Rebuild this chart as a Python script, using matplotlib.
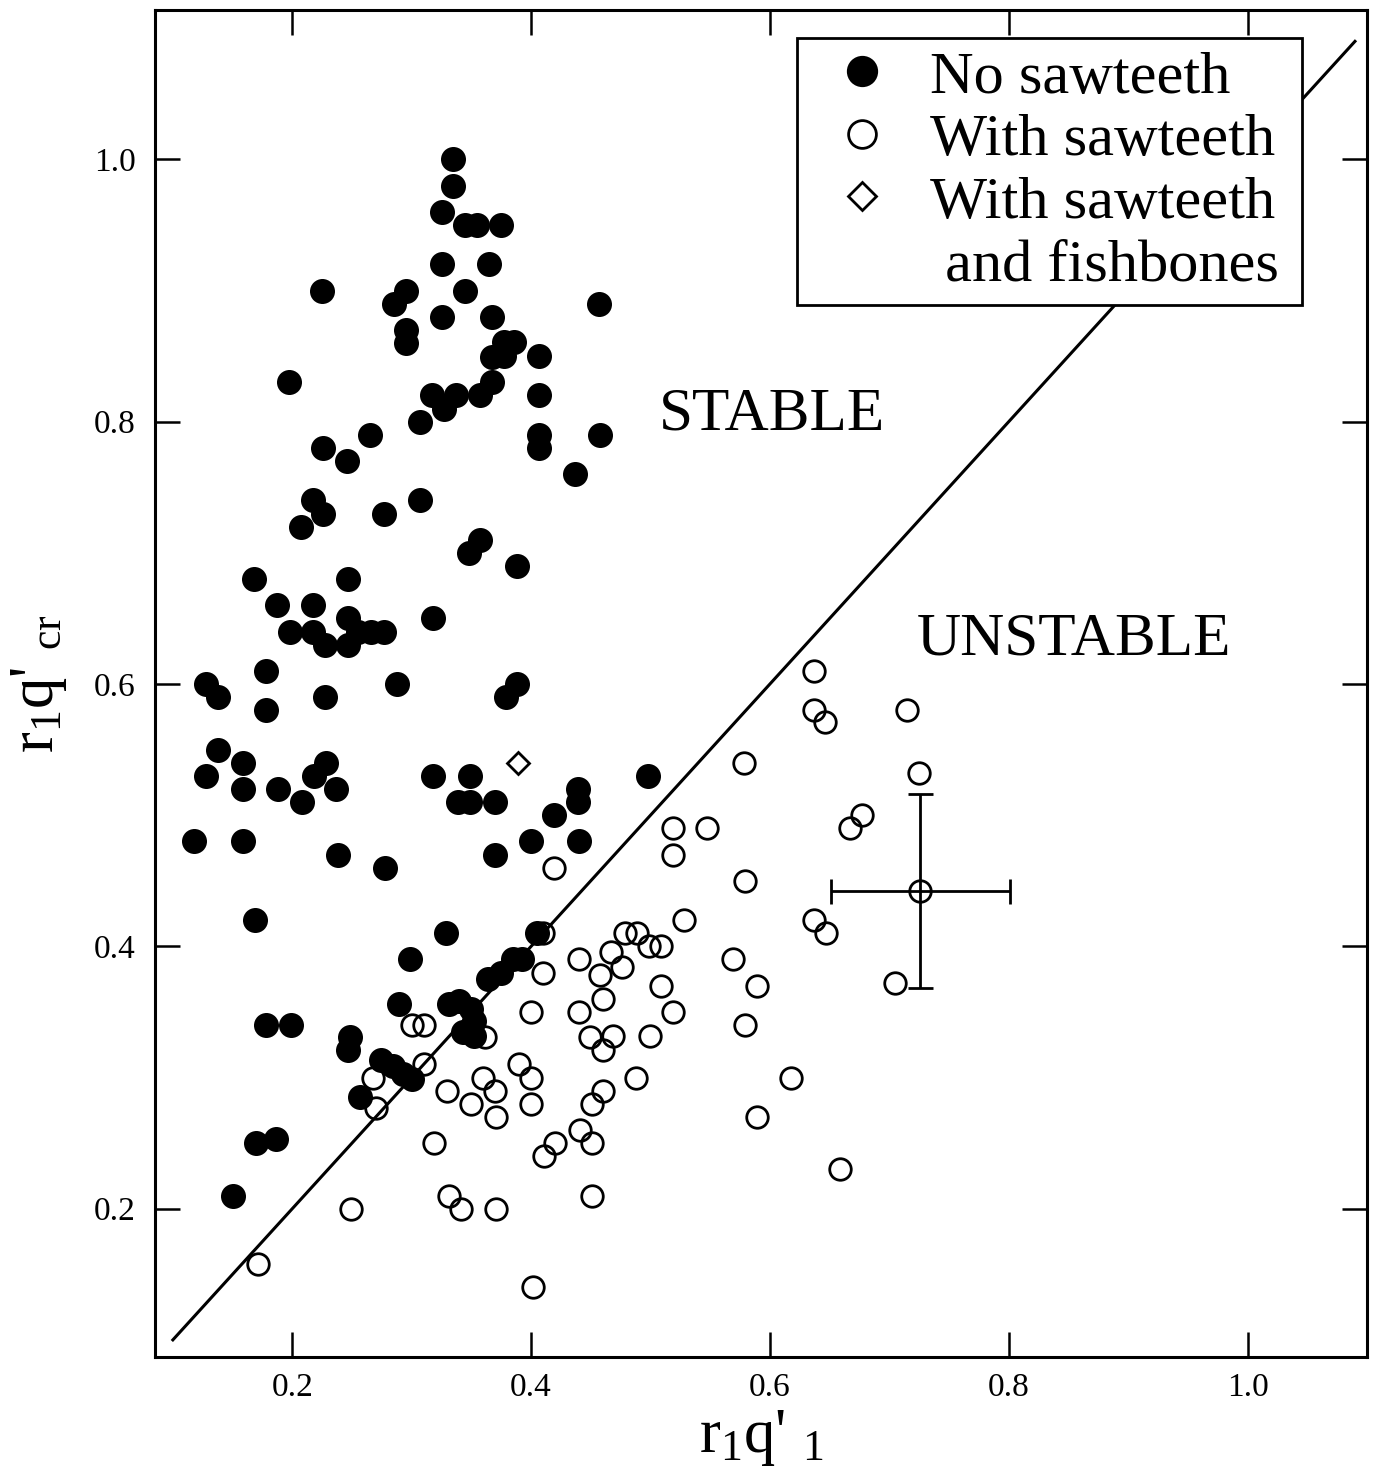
import matplotlib
matplotlib.use('Agg')
import matplotlib.pyplot as plt
from matplotlib.lines import Line2D

plt.rcParams['font.family'] = ['Liberation Serif', 'DejaVu Serif']
plt.rcParams['mathtext.fontset'] = 'custom'
plt.rcParams['mathtext.rm'] = 'Liberation Serif'
plt.rcParams['mathtext.it'] = 'Liberation Serif:italic'

# no sawteeth (filled circles)
no_saw_x = [0.335, 0.335, 0.325, 0.345, 0.355, 0.375, 0.325, 0.365, 0.225, 0.295,
            0.285, 0.345, 0.325, 0.367, 0.457, 0.295, 0.295, 0.377, 0.386, 0.367,
            0.377, 0.407, 0.197, 0.317, 0.327, 0.337, 0.357, 0.367, 0.407, 0.307,
            0.407, 0.407, 0.458, 0.265, 0.226, 0.246, 0.437,
            0.217, 0.226, 0.277, 0.307, 0.207, 0.357, 0.348, 0.388, 0.168, 0.247,
            0.187, 0.217, 0.247, 0.318, 0.198, 0.217, 0.227, 0.247, 0.255, 0.266,
            0.277, 0.128, 0.138, 0.178, 0.178, 0.227, 0.288, 0.388, 0.379, 0.138,
            0.159, 0.128, 0.159, 0.188, 0.208, 0.228, 0.218, 0.237, 0.318, 0.349,
            0.339, 0.349, 0.370, 0.439, 0.439, 0.419, 0.498, 0.118, 0.159, 0.238,
            0.278, 0.370, 0.400, 0.440,
            0.169, 0.329, 0.299, 0.405, 0.364, 0.375, 0.385, 0.392, 0.289, 0.331,
            0.340, 0.350, 0.352, 0.343, 0.352, 0.248, 0.247, 0.274, 0.284, 0.293,
            0.300, 0.257, 0.178, 0.199, 0.170, 0.186, 0.150]
no_saw_y = [1.00, 0.98, 0.96, 0.95, 0.95, 0.95, 0.92, 0.92, 0.90, 0.90,
            0.89, 0.90, 0.88, 0.88, 0.89, 0.87, 0.86, 0.861, 0.861, 0.849,
            0.850, 0.85, 0.83, 0.82, 0.81, 0.82, 0.82, 0.83, 0.82, 0.80,
            0.79, 0.78, 0.79, 0.79, 0.78, 0.77, 0.76,
            0.74, 0.73, 0.73, 0.74, 0.72, 0.71, 0.70, 0.69, 0.68, 0.68,
            0.66, 0.66, 0.65, 0.65, 0.64, 0.64, 0.63, 0.63, 0.64, 0.64,
            0.64, 0.60, 0.59, 0.61, 0.58, 0.59, 0.60, 0.60, 0.59, 0.55,
            0.54, 0.53, 0.52, 0.52, 0.51, 0.54, 0.53, 0.52, 0.53, 0.53,
            0.51, 0.51, 0.51, 0.52, 0.51, 0.50, 0.53, 0.48, 0.48, 0.47,
            0.46, 0.47, 0.48, 0.48,
            0.42, 0.41, 0.39, 0.41, 0.375, 0.38, 0.39, 0.39, 0.356, 0.356,
            0.358, 0.352, 0.343, 0.335, 0.332, 0.331, 0.321, 0.313, 0.309, 0.303,
            0.299, 0.285, 0.34, 0.34, 0.25, 0.253, 0.21]

# with sawteeth (open circles)
saw_x = [0.171, 0.249, 0.402, 0.268, 0.270, 0.300, 0.310, 0.310, 0.361, 0.330,
         0.319, 0.331, 0.341, 0.371, 0.360, 0.370, 0.350, 0.371, 0.390, 0.400,
         0.400, 0.400, 0.410, 0.410, 0.440, 0.440, 0.458, 0.467, 0.476, 0.479,
         0.489, 0.499, 0.509, 0.460, 0.449, 0.469, 0.460, 0.460, 0.451, 0.441,
         0.451, 0.420, 0.411, 0.451, 0.500, 0.488, 0.509, 0.519, 0.419, 0.519,
         0.547, 0.519, 0.528, 0.569, 0.589, 0.579, 0.618, 0.589, 0.659, 0.578,
         0.579, 0.637, 0.637, 0.646, 0.715, 0.725, 0.677, 0.667, 0.637, 0.647,
         0.705]
saw_y = [0.158, 0.20, 0.14, 0.30, 0.277, 0.34, 0.34, 0.31, 0.331, 0.29,
         0.25, 0.21, 0.20, 0.20, 0.30, 0.29, 0.28, 0.27, 0.31, 0.30,
         0.28, 0.35, 0.41, 0.38, 0.39, 0.35, 0.378, 0.396, 0.384, 0.41,
         0.41, 0.40, 0.40, 0.36, 0.331, 0.332, 0.321, 0.29, 0.28, 0.26,
         0.25, 0.25, 0.24, 0.21, 0.332, 0.30, 0.37, 0.35, 0.46, 0.49,
         0.49, 0.47, 0.42, 0.39, 0.37, 0.34, 0.30, 0.27, 0.23, 0.54,
         0.45, 0.61, 0.58, 0.571, 0.58, 0.532, 0.50, 0.49, 0.42, 0.41,
         0.372]

# with sawteeth and fishbones
fish_x = [0.389]
fish_y = [0.54]

# typical error bar
err_x, err_y = 0.726, 0.442
err_dx, err_dy = 0.075, 0.074

# marginal stability line
line_x = [0.10, 1.09]
line_y = [0.10, 1.09]

fig = plt.figure(figsize=(13.81, 14.73), dpi=100)
ax = fig.add_axes([0.1122, 0.0788, 0.8776, 0.9145])

ax.plot(line_x, line_y, color='k', lw=2.2, zorder=1)
ax.plot(saw_x, saw_y, 'o', ls='none', ms=15.5, mfc='none', mec='k', mew=2, zorder=2)
ax.plot(no_saw_x, no_saw_y, 'o', ls='none', ms=16.5, mfc='k', mec='k', mew=1.5, zorder=3)
ax.plot(fish_x, fish_y, 'D', ls='none', ms=11, mfc='none', mec='k', mew=2, zorder=3)
ax.errorbar(err_x, err_y, xerr=err_dx, yerr=err_dy, fmt='o', ms=15.5, mfc='none',
            mec='k', mew=2, ecolor='k', elinewidth=2, capsize=9, capthick=2, zorder=3)

ax.text(0.507, 0.794, 'STABLE', fontsize=44, ha='left', va='baseline')
ax.text(0.723, 0.6226, 'UNSTABLE', fontsize=44, ha='left', va='baseline')

ax.set_xlim(0.085, 1.10)
ax.set_ylim(0.087, 1.114)
ax.set_xticks([0.2, 0.4, 0.6, 0.8, 1.0])
ax.set_yticks([0.2, 0.4, 0.6, 0.8, 1.0])
ax.tick_params(direction='in', length=18, width=1.8, top=True, right=True, labelsize=24)
ax.tick_params(axis='x', pad=11)
ax.tick_params(axis='y', pad=14)
for sp in ax.spines.values():
    sp.set_linewidth(2.2)

ax.set_xlabel("r$_1$q' $_1$", fontsize=45, labelpad=4)
ax.set_ylabel("r$_1$q' $_{\\rm cr}$", fontsize=45, labelpad=18)

handles = [Line2D([], [], marker='o', ls='none', ms=21, mfc='k', mec='k', mew=1.5),
           Line2D([], [], marker='o', ls='none', ms=20, mfc='none', mec='k', mew=2),
           Line2D([], [], marker='D', ls='none', ms=14.5, mfc='none', mec='k', mew=2),
           Line2D([], [], ls='none')]
labels = ['No sawteeth', 'With sawteeth', 'With sawteeth', ' and fishbones']
leg = ax.legend(handles, labels, loc='upper left', bbox_to_anchor=(0.5297, 0.5, 0.4167, 0.479),
                mode='expand', fontsize=43.5, frameon=True, fancybox=False, framealpha=1,
                edgecolor='k', borderpad=0.2, handlelength=1.75, handletextpad=0.25,
                labelspacing=0.12, borderaxespad=0)
leg.get_frame().set_linewidth(2)
leg.set_zorder(5)

fig.savefig('out.png', dpi=100)
